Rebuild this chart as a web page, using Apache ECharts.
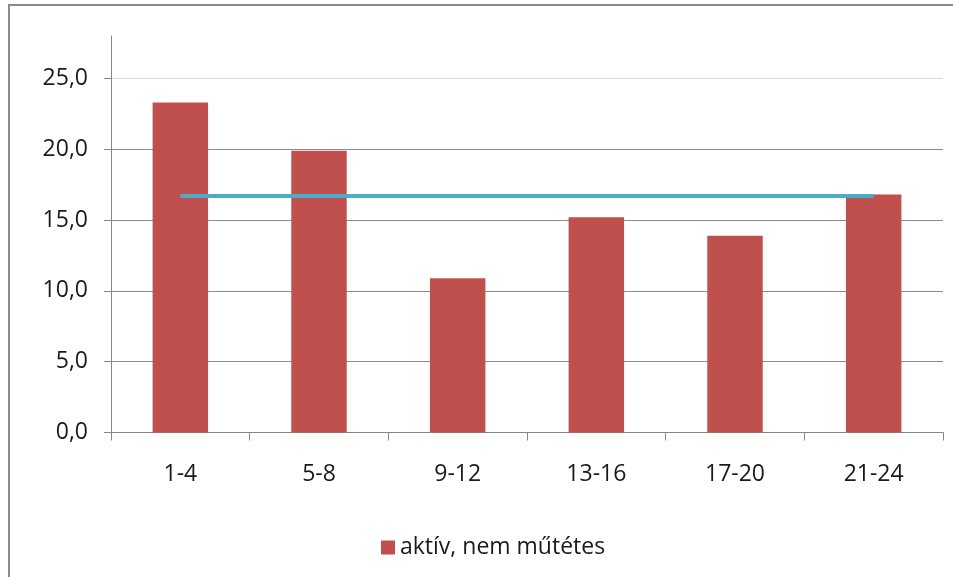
<!DOCTYPE html>
<html>
<head>
<meta charset="utf-8">
<script src="https://cdn.jsdelivr.net/npm/echarts@6/dist/echarts.min.js"></script>
<style>
  html, body { margin: 0; padding: 0; background: #ffffff; }
  #frame { position: absolute; left: 8px; top: 4px; width: 960px; height: 600px;
           border-left: 2px solid #8a8a8a; border-top: 2px solid #8a8a8a; box-sizing: border-box; }
  #chart { position: absolute; left: 0; top: 0; width: 953px; height: 577px; }
</style>
</head>
<body>
<div id="frame"></div>
<div id="chart"></div>
<script>
const categories = ['1-4', '5-8', '9-12', '13-16', '17-20', '21-24'];
const barValues = [23.3, 19.9, 10.9, 15.2, 13.9, 16.8];
const avgValues = [16.7, 16.7, 16.7, 16.7, 16.7, 16.7];
const yTicks = [0, 5, 10, 15, 20, 25];
const barName = 'aktív, nem műtétes';
const lineName = 'átlag';

const FONT = 'Open Sans';
const FS = 23;
const chart = echarts.init(document.getElementById('chart'), null, { renderer: 'canvas' });
chart.setOption({
  animation: false,
  backgroundColor: 'transparent',
  textStyle: { fontFamily: FONT },
  grid: { left: 111, right: 10, top: 36, bottom: 144.5, containLabel: false },
  legend: {
    data: [barName],
    left: 376, top: 531,
    icon: 'rect', itemWidth: 14, itemHeight: 14, itemGap: 10,
    textStyle: { fontFamily: FONT, fontSize: FS, color: '#1a1a1a' }
  },
  xAxis: {
    type: 'category',
    data: categories,
    boundaryGap: true,
    axisLine: { lineStyle: { color: '#868686', width: 1 } },
    axisTick: { show: true, length: 8, lineStyle: { color: '#868686' } },
    axisLabel: { margin: 30, fontFamily: FONT, fontSize: FS, color: '#1a1a1a' },
    splitLine: { show: false }
  },
  yAxis: {
    type: 'value',
    min: 0, max: 28, interval: 5,
    axisLine: { show: true, lineStyle: { color: '#868686', width: 1 } },
    axisTick: { show: true, length: 7, customValues: yTicks, lineStyle: { color: '#868686' } },
    axisLabel: {
      customValues: yTicks,
      margin: 23, fontFamily: FONT, fontSize: FS, color: '#1a1a1a',
      formatter: v => (v % 5 === 0 ? v.toFixed(1).replace('.', ',') : '')
    },
    splitLine: {
      show: true, showMinLine: false,
      lineStyle: { color: ['#8c8c8c', '#8c8c8c', '#8c8c8c', '#8c8c8c', '#d9d9d9'], width: 1 }
    }
  },
  series: [
    {
      name: barName,
      type: 'bar',
      data: barValues,
      barWidth: '40%',
      itemStyle: { color: '#c0504d' },
      z: 2
    },
    {
      name: lineName,
      type: 'line',
      data: avgValues,
      symbol: 'none',
      lineStyle: { color: '#4bacc6', width: 4 },
      itemStyle: { color: '#4bacc6' },
      z: 3
    }
  ]
});
</script>
</body>
</html>
